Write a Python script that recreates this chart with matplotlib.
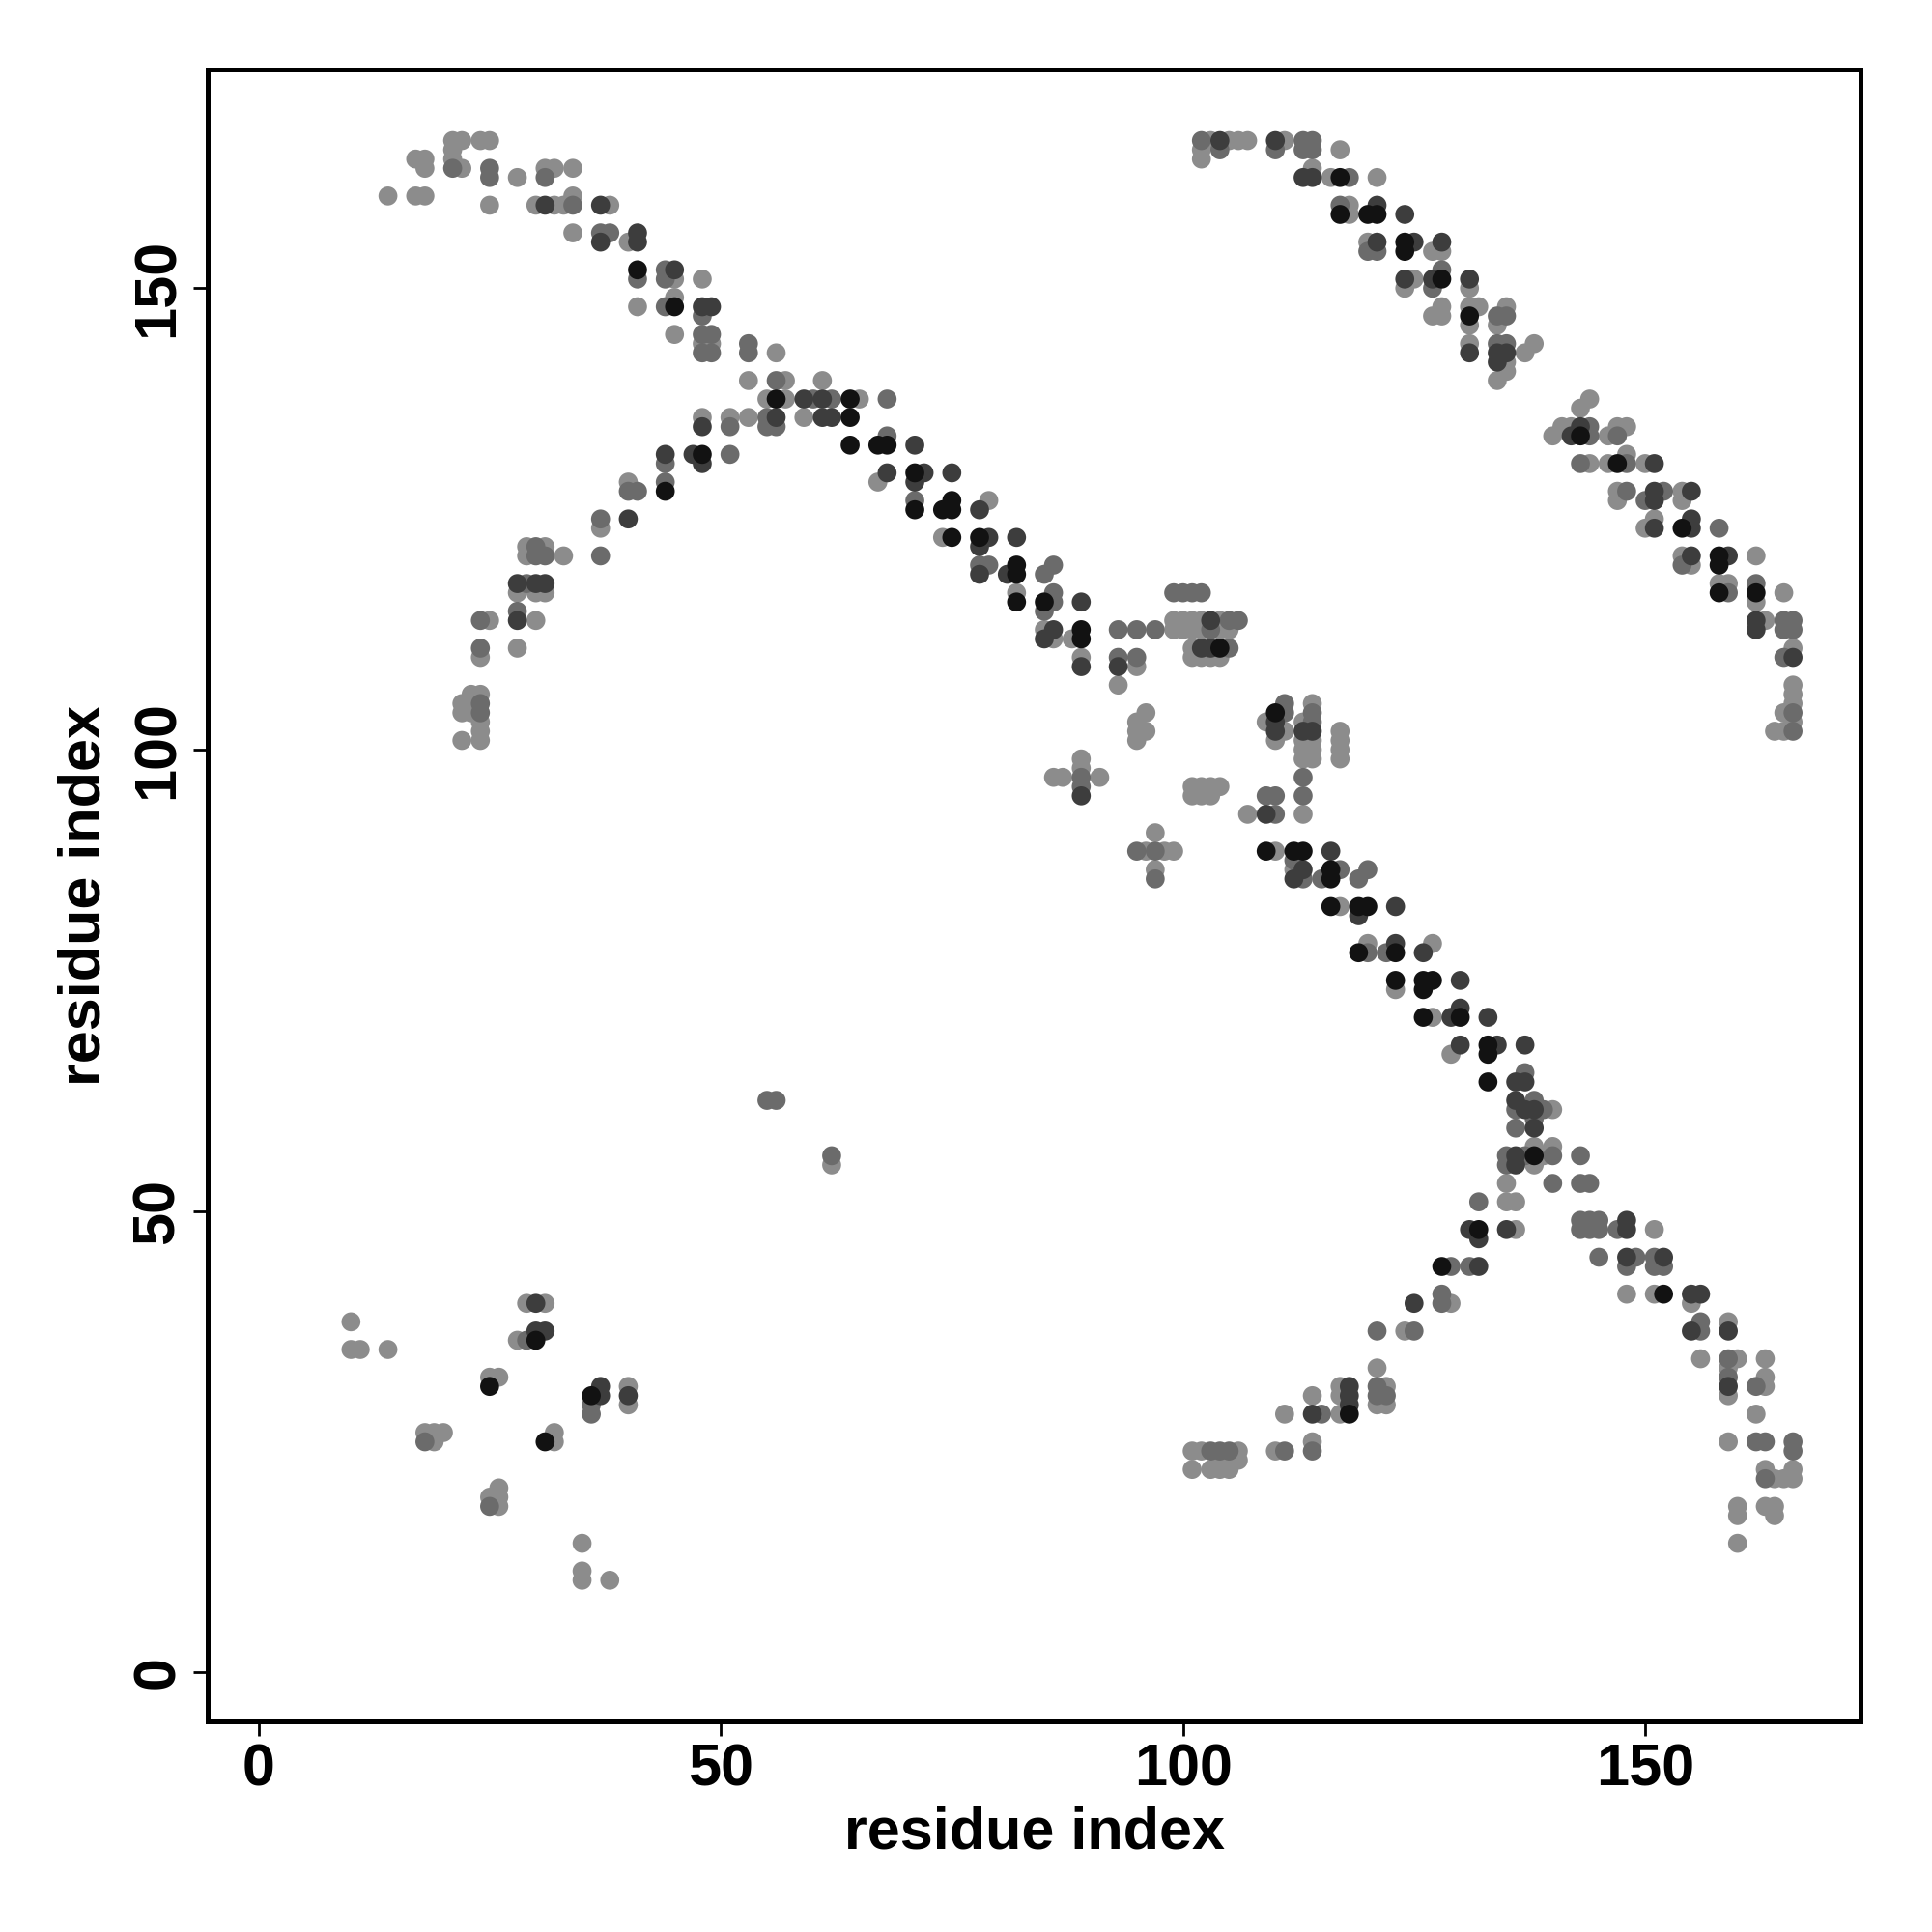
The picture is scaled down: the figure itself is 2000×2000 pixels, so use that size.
import matplotlib
matplotlib.use("Agg")
import matplotlib.pyplot as plt

# grey levels: L light, M mid, D dark, K near black
GREY = {"L": 0.55, "M": 0.42, "D": 0.24, "K": 0.07}

# (i, j, level) contacts, by region of the map
upper_left_arc = [
    (21,166,"L"),(22,166,"L"),(24,166,"L"),(25,166,"L"),
    (21,165,"L"),(21,164,"L"),(21,163,"M"),(22,163,"L"),
    (17,164,"L"),(18,164,"L"),(18,163,"L"),
    (25,163,"M"),(25,162,"M"),(28,162,"L"),(31,163,"L"),(32,163,"L"),(31,162,"M"),(34,163,"L"),
    (14,160,"L"),(17,160,"L"),(18,160,"L"),(25,159,"L"),
    (30,159,"L"),(31,159,"D"),(32,159,"L"),(33,159,"L"),(34,159,"M"),(34,160,"L"),(37,159,"D"),(38,159,"L"),
    (34,156,"L"),(37,156,"M"),(38,156,"M"),(37,155,"D"),(40,155,"L"),(41,156,"D"),(41,155,"D"),
    (41,152,"K"),(41,151,"M"),(44,152,"M"),(45,152,"D"),(44,151,"M"),(45,151,"L"),(48,151,"L"),
    (41,148,"L"),(44,148,"M"),(45,149,"L"),(45,148,"K"),(48,148,"D"),(49,148,"D"),(48,147,"M"),
    (45,145,"L"),(48,145,"M"),(49,145,"M"),(48,144,"L"),(49,144,"L"),(48,143,"M"),(49,143,"M"),
    (53,144,"M"),(53,143,"M"),(56,143,"L"),
    (53,140,"L"),(56,140,"M"),(57,140,"L"),(61,140,"L"),
    (55,138,"L"),(56,138,"K"),(57,138,"L"),(59,138,"D"),(60,138,"M"),(61,138,"D"),(62,138,"M"),
    (64,138,"K"),(65,138,"L"),
    (48,136,"L"),(51,136,"L"),(53,136,"L"),(55,136,"M"),(56,136,"D"),(59,136,"L"),(61,136,"D"),
    (62,136,"D"),(64,136,"K"),
    (48,135,"D"),(51,135,"M"),(55,135,"M"),(56,135,"M"),
    (64,133,"K"),
    (44,132,"D"),(47,132,"D"),(48,132,"K"),(51,132,"M"),
    (44,131,"M"),(48,131,"D"),
    (40,129,"L"),(44,129,"M"),
    (40,128,"M"),(41,128,"M"),(44,128,"K"),
    (37,125,"M"),(37,124,"L"),(40,125,"D"),
    (29,122,"L"),(30,122,"M"),(31,122,"L"),(29,121,"L"),(30,121,"M"),(31,121,"M"),(33,121,"L"),(37,121,"M"),
    (28,118,"D"),(29,118,"M"),(30,118,"D"),(31,118,"D"),(28,117,"L"),(30,117,"L"),(31,117,"L"),
    (28,115,"M"),(24,114,"M"),(25,114,"L"),(28,114,"D"),(30,114,"L"),
    (24,111,"M"),(28,111,"L"),(24,110,"L"),
    (23,106,"L"),(24,106,"L"),(22,105,"L"),(24,105,"M"),(22,104,"L"),(23,104,"L"),(24,104,"M"),
    (24,103,"L"),(24,102,"L"),(22,101,"L"),(24,101,"L"),
]

upper_right_arc = [
    (102,166,"M"),(103,166,"L"),(104,166,"D"),(105,166,"L"),(106,166,"L"),(107,166,"L"),
    (110,166,"D"),(111,166,"L"),(113,166,"M"),(114,166,"M"),
    (102,165,"L"),(104,165,"M"),(110,165,"M"),(113,165,"M"),(114,165,"M"),(117,165,"L"),
    (102,164,"L"),(114,163,"L"),
    (113,162,"D"),(114,162,"D"),(116,162,"L"),(117,162,"K"),(118,162,"M"),(121,162,"L"),
    (117,159,"M"),(118,159,"L"),(121,159,"D"),
    (117,158,"K"),(118,158,"L"),(120,158,"K"),(121,158,"K"),(124,158,"D"),
    (120,155,"L"),(121,155,"D"),(124,155,"K"),(125,155,"D"),(128,155,"D"),
    (120,154,"M"),(121,154,"M"),(124,154,"K"),(127,154,"L"),(128,154,"L"),
    (128,152,"M"),
    (124,151,"D"),(125,151,"L"),(127,151,"D"),(128,151,"K"),(131,151,"D"),
    (124,150,"L"),(127,150,"M"),(131,150,"L"),
    (128,148,"L"),(131,148,"L"),(132,148,"L"),(135,148,"L"),
    (127,147,"L"),(128,147,"L"),(131,147,"K"),(134,147,"M"),(135,147,"M"),
    (131,146,"L"),(134,146,"L"),
    (131,144,"L"),(134,144,"M"),(135,144,"M"),(138,144,"L"),
    (131,143,"D"),(134,143,"D"),(135,143,"D"),(137,143,"L"),
    (134,142,"D"),(135,142,"L"),(135,141,"L"),(134,140,"L"),
    (144,138,"L"),(143,137,"L"),
    (141,135,"L"),(142,135,"L"),(143,135,"D"),(144,135,"M"),(147,135,"L"),(148,135,"L"),
    (140,134,"L"),(142,134,"D"),(143,134,"K"),(144,134,"M"),(146,134,"L"),(147,134,"M"),
    (143,131,"M"),(144,131,"L"),(146,131,"L"),(147,131,"K"),(148,131,"M"),(148,132,"L"),
    (150,131,"L"),(151,131,"D"),
    (147,128,"L"),(148,128,"M"),(151,128,"D"),(152,128,"M"),(154,128,"L"),(155,128,"D"),
    (147,127,"L"),(150,127,"M"),(151,127,"D"),(154,127,"L"),
    (151,125,"L"),(155,125,"D"),
    (150,124,"L"),(151,124,"D"),(154,124,"K"),(155,124,"D"),(158,124,"M"),
    (154,121,"L"),(155,121,"D"),(158,121,"K"),(159,121,"D"),(162,121,"L"),
    (154,120,"M"),(155,120,"L"),(158,120,"K"),
    (158,118,"L"),(159,118,"L"),(162,118,"M"),
    (158,117,"K"),(159,117,"M"),(162,117,"K"),(165,117,"L"),
    (162,116,"L"),
    (162,114,"D"),(163,114,"L"),(165,114,"M"),(166,114,"M"),
    (162,113,"D"),(165,113,"M"),(166,113,"M"),
    (166,111,"L"),(165,110,"M"),(166,110,"D"),
    (166,107,"L"),(166,106,"L"),(166,105,"L"),(165,104,"L"),(166,104,"M"),(166,103,"L"),
    (164,102,"L"),(165,102,"L"),(166,102,"M"),
]

middle_diagonal = [
    (68,138,"M"),(68,134,"M"),
    (67,133,"K"),(68,133,"K"),(71,133,"D"),
    (68,130,"D"),(71,130,"K"),(72,130,"D"),(75,130,"D"),
    (67,129,"L"),(71,129,"D"),
    (71,127,"M"),(75,127,"K"),(79,127,"L"),
    (71,126,"K"),(74,126,"K"),(75,126,"K"),(78,126,"D"),
    (74,123,"L"),(75,123,"K"),(78,123,"K"),(79,123,"D"),(82,123,"D"),
    (78,122,"D"),
    (78,120,"M"),(79,120,"M"),(82,120,"K"),(86,120,"M"),
    (78,119,"D"),(81,119,"D"),(82,119,"K"),(85,119,"M"),
    (82,117,"L"),(86,117,"M"),
    (82,116,"K"),(85,116,"K"),(86,116,"M"),(89,116,"D"),
    (85,115,"M"),
    (85,113,"L"),(86,113,"D"),(89,113,"K"),(93,113,"M"),(95,113,"M"),(97,113,"M"),
    (99,114,"L"),(100,114,"L"),(101,114,"L"),(102,114,"L"),(103,114,"D"),(104,114,"L"),
    (105,114,"M"),(106,114,"M"),
    (99,113,"L"),(100,113,"L"),(101,113,"L"),(102,113,"L"),(103,113,"M"),(104,113,"L"),(105,113,"L"),
    (99,117,"M"),(100,117,"M"),(101,117,"M"),(102,117,"M"),
    (85,112,"D"),(86,112,"L"),(88,112,"L"),(89,112,"K"),
    (101,111,"L"),(102,111,"D"),(103,111,"D"),(104,111,"K"),(105,111,"M"),
    (101,110,"L"),(102,110,"L"),(103,110,"L"),(104,110,"L"),
    (89,110,"L"),(93,110,"M"),(95,110,"M"),(89,109,"D"),(93,109,"D"),(95,109,"L"),
    (93,107,"L"),
    (96,104,"L"),(95,103,"L"),(95,102,"L"),(96,102,"L"),(95,101,"L"),
    (89,99,"L"),(89,98,"L"),(86,97,"L"),(87,97,"L"),(89,97,"M"),(91,97,"L"),(89,96,"M"),(89,95,"D"),
    (111,105,"M"),(114,105,"L"),
    (110,104,"K"),(111,104,"M"),(114,104,"M"),
    (109,103,"L"),(110,103,"D"),(113,103,"L"),(114,103,"M"),
    (110,102,"D"),(111,102,"L"),(113,102,"D"),(114,102,"D"),(117,102,"L"),
    (110,101,"L"),(113,101,"L"),(114,101,"L"),(117,101,"L"),
    (113,100,"L"),(114,100,"L"),(117,100,"L"),
    (113,99,"L"),(114,99,"L"),(117,99,"L"),
    (113,97,"M"),
    (101,96,"L"),(102,96,"L"),(103,96,"L"),(104,96,"L"),(101,95,"L"),(102,95,"L"),(103,95,"L"),
    (109,95,"M"),(110,95,"M"),(113,95,"M"),
    (107,93,"L"),(109,93,"D"),(110,93,"M"),(113,93,"L"),
    (97,91,"L"),
    (95,89,"M"),(96,89,"L"),(97,89,"M"),(98,89,"L"),(99,89,"L"),
    (109,89,"K"),(110,89,"L"),(112,89,"K"),(113,89,"K"),(116,89,"D"),
    (112,88,"M"),
    (97,87,"L"),(97,86,"M"),
    (112,87,"L"),(113,87,"D"),(116,87,"K"),(117,87,"M"),(120,87,"M"),
    (112,86,"D"),(113,86,"M"),(115,86,"M"),(116,86,"K"),(119,86,"M"),
    (116,83,"K"),(117,83,"L"),(119,83,"K"),(120,83,"K"),(123,83,"D"),
    (119,82,"D"),
    (120,79,"L"),(123,79,"D"),(127,79,"L"),
    (119,78,"K"),(120,78,"M"),(122,78,"M"),(123,78,"K"),(126,78,"D"),
    (123,75,"K"),(126,75,"K"),(127,75,"K"),(130,75,"D"),(123,74,"L"),(126,74,"K"),
    (130,72,"D"),
    (126,71,"K"),(127,71,"L"),(129,71,"D"),(130,71,"K"),(133,71,"D"),
    (130,68,"D"),(133,68,"K"),(134,68,"D"),(137,68,"D"),
    (129,67,"L"),(133,67,"K"),
    (137,65,"M"),
    (133,64,"K"),(136,64,"D"),(137,64,"D"),
    (136,62,"D"),(138,62,"M"),
    (136,61,"M"),(137,61,"D"),(138,61,"D"),(139,61,"M"),(140,61,"L"),
    (138,60,"M"),(136,59,"M"),(138,59,"D"),
    (138,57,"L"),(140,57,"L"),
    (135,56,"M"),(136,56,"D"),(137,56,"M"),(138,56,"K"),(139,56,"L"),(140,56,"M"),(143,56,"M"),
    (135,55,"M"),(136,55,"D"),(138,55,"L"),
]

lower_right = [
    (135,53,"L"),(140,53,"M"),(143,53,"M"),(144,53,"M"),
    (132,51,"M"),(135,51,"L"),(136,51,"L"),
    (143,49,"M"),(144,49,"M"),(145,49,"M"),(148,49,"D"),
    (131,48,"D"),(132,48,"K"),(135,48,"D"),(136,48,"L"),(143,48,"M"),(144,48,"M"),(145,48,"M"),
    (147,48,"M"),(148,48,"D"),(151,48,"L"),
    (132,47,"D"),
    (145,45,"M"),(148,45,"D"),(149,45,"M"),(151,45,"M"),(152,45,"D"),
    (128,44,"K"),(129,44,"M"),(131,44,"M"),(132,44,"D"),
    (148,44,"M"),(151,44,"M"),(152,44,"M"),
    (148,41,"L"),(151,41,"L"),(152,41,"K"),(155,41,"D"),(156,41,"D"),
    (155,40,"L"),
    (156,38,"M"),(159,38,"L"),(155,37,"D"),(156,37,"M"),(159,37,"D"),
    (156,34,"L"),(159,34,"M"),(160,34,"L"),(163,34,"L"),
    (159,33,"L"),(159,32,"M"),(163,32,"L"),
    (159,31,"D"),(162,31,"M"),(163,31,"L"),(159,30,"L"),
    (162,28,"L"),
    (159,25,"L"),(162,25,"M"),(163,25,"M"),(166,25,"M"),(166,24,"M"),
    (163,22,"L"),(166,22,"L"),
    (163,21,"M"),(164,21,"L"),(165,21,"L"),(166,21,"L"),
    (160,18,"L"),(163,18,"L"),(164,18,"L"),(160,17,"L"),(164,17,"L"),
    (160,14,"L"),
    (128,41,"M"),(128,40,"M"),(129,40,"L"),(125,40,"D"),
    (121,37,"M"),(124,37,"L"),(125,37,"M"),
    (121,33,"L"),
    (117,31,"L"),(118,31,"D"),(121,31,"M"),(122,31,"L"),
    (114,30,"L"),(117,30,"L"),(118,30,"D"),(121,30,"M"),(122,30,"M"),
    (118,29,"D"),(121,29,"L"),(122,29,"L"),
    (111,28,"L"),(114,28,"D"),(115,28,"M"),(117,28,"L"),(118,28,"K"),
    (114,25,"L"),
    (101,24,"L"),(102,24,"L"),(103,24,"M"),(104,24,"M"),(105,24,"M"),(106,24,"L"),
    (110,24,"L"),(111,24,"M"),(114,24,"M"),
    (101,22,"L"),(103,22,"L"),(104,23,"L"),(106,23,"L"),(104,22,"L"),(105,22,"L"),
]

lower_left = [
    (10,38,"L"),(10,35,"L"),(11,35,"L"),(14,35,"L"),
    (29,40,"L"),(30,40,"D"),(31,40,"L"),(30,37,"D"),(31,37,"D"),(28,36,"L"),(29,36,"M"),(30,36,"K"),
    (25,32,"L"),(26,32,"L"),(25,31,"K"),
    (37,31,"D"),(40,31,"L"),(36,30,"K"),(37,30,"D"),(40,30,"D"),(36,29,"M"),(40,29,"L"),(36,28,"M"),
    (18,26,"L"),(19,26,"L"),(20,26,"L"),(18,25,"M"),(19,25,"L"),
    (32,26,"L"),(31,25,"K"),(32,25,"L"),
    (26,20,"L"),(25,19,"L"),(26,19,"L"),(25,18,"M"),(26,18,"L"),
    (35,14,"L"),(35,11,"L"),(35,10,"L"),(38,10,"L"),
]

isolated = [(55,62,"M"),(56,62,"M"),(62,56,"M"),(62,55,"L")]

x_ticks = [0, 50, 100, 150]
y_ticks = [0, 50, 100, 150]
x_label = "residue index"
y_label = "residue index"

pts = upper_left_arc + upper_right_arc + middle_diagonal + lower_right + lower_left + isolated
pts = sorted(pts, key=lambda p: -GREY[p[2]])
xs = [p[0] for p in pts]
ys = [p[1] for p in pts]
cols = [(GREY[p[2]],) * 3 for p in pts]

plt.rcParams['font.family'] = ['Liberation Sans', 'DejaVu Sans']
plt.rcParams['font.weight'] = 'bold'

fig = plt.figure(figsize=(10, 10), dpi=200)
ax = fig.add_axes([0.1075, 0.109, 0.8555, 0.855])
ax.scatter(xs, ys, s=50, c=cols, edgecolors='none', linewidths=0)
ax.set_xlim(-5.5, 173.3)
ax.set_ylim(-5.3, 173.7)
ax.set_xticks(x_ticks)
ax.set_yticks(y_ticks)
ax.set_xticklabels([str(t) for t in x_ticks], fontsize=22, fontweight='bold')
ax.set_yticklabels([str(t) for t in y_ticks], fontsize=22, fontweight='bold',
                   rotation=90, va='center')
ax.tick_params(axis='both', length=5.5, width=1.0, color='black', pad=2.5)
for sp in ax.spines.values():
    sp.set_linewidth(1.8)
ax.set_xlabel(x_label, fontsize=22, fontweight='bold', labelpad=3)
ax.set_ylabel(y_label, fontsize=22, fontweight='bold', labelpad=7)
fig.savefig("out.png", dpi=200, facecolor='white')
